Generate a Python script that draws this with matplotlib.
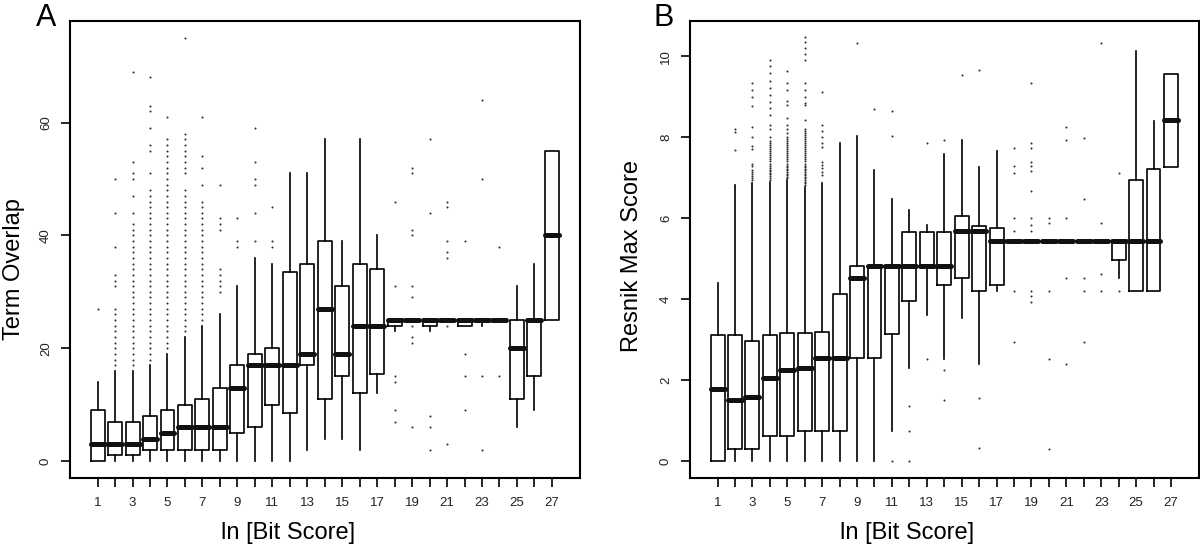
import matplotlib
matplotlib.use("Agg")
import matplotlib.pyplot as plt

plt.rcParams['font.family'] = ['Liberation Sans', 'DejaVu Sans']

positions = list(range(1, 28))
odd_labels = [str(k) if k % 2 == 1 else '' for k in positions]

# Panel A: Term Overlap
a_q1 = [0, 1, 1, 2, 2, 2, 2, 2, 5, 6, 10, 8.5, 17, 11, 15, 12, 15.5,
        24, 25, 24, 25, 24, 25, 25, 11, 15, 25]
a_med = [3, 3, 3, 4, 5, 6, 6, 6, 13, 17, 17, 17, 19, 27, 19, 24, 24,
         25, 25, 25, 25, 25, 25, 25, 20, 25, 40]
a_q3 = [9, 7, 7, 8, 9, 10, 11, 13, 17, 19, 20, 33.5, 35, 39, 31, 35, 34,
        25, 25, 25, 25, 25, 25, 25, 25, 25, 55]
a_lo = [0, 0, 0, 0, 0, 0, 0, 0, 0, 0, 0, 0, 2, 4, 4, 2, 12,
        23, 25, 23, 25, 24, 24, 25, 6, 9, 25]
a_hi = [14, 16, 16, 17, 19, 22, 24, 26, 31, 36, 35, 51, 51, 57, 39, 57, 40,
        25, 25, 25, 25, 25, 25, 25, 31, 35, 55]
a_fliers = [
    [27],
    [17, 18, 19, 20, 21, 22, 23, 24, 25, 26, 27, 31, 32, 33, 38, 44, 50],
    [17, 18, 19, 20, 21, 22, 23, 24, 25, 26, 27, 28, 29, 30, 31, 32, 33, 34,
     35, 36, 37, 38, 39, 40, 41, 42, 44, 47, 50, 51, 53, 69],
    [18, 19, 20, 21, 22, 23, 24, 25, 26, 27, 28, 29, 30, 31, 32, 33, 34, 35,
     36, 37, 38, 39, 40, 41, 42, 43, 44, 45, 46, 47, 48, 51, 55, 56, 59, 62,
     63, 68],
    [20, 21, 22, 23, 24, 25, 26, 27, 28, 29, 30, 31, 32, 33, 34, 35, 36, 37,
     38, 39, 40, 41, 42, 43, 44, 45, 46, 47, 48, 49, 50, 51, 52, 53, 54, 55,
     56, 57, 61],
    [23, 24, 25, 26, 27, 28, 29, 30, 31, 32, 33, 34, 35, 36, 37, 38, 39, 40,
     41, 42, 43, 44, 45, 46, 47, 48, 51, 52, 53, 54, 55, 56, 57, 58, 75],
    [25, 26, 27, 28, 29, 30, 31, 32, 33, 34, 35, 36, 37, 38, 39, 40, 41, 42,
     43, 44, 45, 46, 49, 52, 54, 61],
    [30, 31, 32, 33, 34, 41, 42, 43, 49],
    [38, 39, 43],
    [39, 44, 49, 50, 53, 59],
    [38, 39, 45],
    [], [], [], [], [], [],
    [7, 9, 14, 15, 31, 46],
    [6, 21, 22, 24, 29, 31, 40, 41, 51, 52],
    [2, 6, 8, 44, 57],
    [3, 24, 36, 37, 39, 45, 46],
    [9, 15, 19, 39],
    [2, 15, 50, 64],
    [15, 38],
    [], [], [],
]

# Panel B: Resnik Max Score
b_q1 = [0, 0.30, 0.30, 0.63, 0.63, 0.74, 0.74, 0.74, 2.54, 2.54, 3.14, 3.95,
        4.81, 4.36, 4.51, 4.21, 4.36, 5.43, 5.43, 5.43, 5.43, 5.43, 5.43,
        4.97, 4.21, 4.21, 7.27]
b_med = [1.77, 1.50, 1.58, 2.04, 2.24, 2.30, 2.54, 2.54, 4.52, 4.81, 4.81,
         4.81, 4.81, 4.81, 5.69, 5.69, 5.43, 5.43, 5.43, 5.43, 5.43, 5.43,
         5.43, 5.43, 5.43, 5.43, 8.42]
b_q3 = [3.12, 3.12, 2.97, 3.12, 3.16, 3.16, 3.20, 4.13, 4.82, 4.81, 4.81,
        5.67, 5.67, 5.67, 6.06, 5.80, 5.76, 5.43, 5.43, 5.43, 5.43, 5.43,
        5.43, 5.43, 6.94, 7.22, 9.57]
b_lo = [0, 0, 0, 0, 0, 0, 0, 0, 0, 0, 0.74, 2.30, 3.62, 2.53, 3.53, 2.41,
        4.21, 5.43, 5.43, 5.43, 5.43, 5.43, 5.43, 4.51, 4.21, 4.21, 7.27]
b_hi = [4.40, 6.82, 6.88, 6.90, 6.94, 6.78, 6.88, 7.86, 8.03, 7.20, 6.47,
        6.19, 5.82, 7.58, 7.92, 7.27, 7.66, 5.43, 5.43, 5.43, 5.43, 5.43,
        5.43, 5.43, 10.13, 8.40, 9.57]
b_fliers = [
    [],
    [7.68, 8.14, 8.20],
    [6.95, 7.0, 7.05, 7.1, 7.15, 7.2, 7.3, 7.35, 7.7, 7.78, 8.0, 8.26, 8.76,
     9.0, 9.17, 9.33],
    [6.95, 7.0, 7.04, 7.08, 7.12, 7.16, 7.2, 7.25, 7.3, 7.35, 7.4, 7.45, 7.5,
     7.55, 7.6, 7.65, 7.7, 7.75, 7.8, 7.85, 7.9, 8.0, 8.2, 8.3, 8.55, 8.72,
     8.88, 9.05, 9.21, 9.38, 9.59, 9.75, 9.9],
    [6.98, 7.02, 7.06, 7.1, 7.14, 7.18, 7.22, 7.26, 7.3, 7.35, 7.4, 7.45,
     7.5, 7.55, 7.6, 7.65, 7.7, 7.75, 7.8, 7.85, 7.9, 7.95, 8.0, 8.1, 8.2,
     8.3, 8.47, 8.8, 8.9, 9.17, 9.34, 9.63],
    [6.82, 6.86, 6.9, 6.94, 6.98, 7.02, 7.06, 7.1, 7.14, 7.18, 7.22, 7.26,
     7.3, 7.35, 7.4, 7.45, 7.5, 7.55, 7.6, 7.65, 7.7, 7.75, 7.8, 7.85, 7.9,
     7.95, 8.0, 8.05, 8.1, 8.15, 8.2, 8.43, 8.8, 8.85, 9.0, 9.17, 9.34, 9.9,
     10.05, 10.2, 10.35, 10.47],
    [7.06, 7.15, 7.25, 7.32, 7.39, 7.76, 7.85, 8.01, 8.15, 8.30, 9.12],
    [],
    [10.33],
    [8.70],
    [0.0, 8.03, 8.64],
    [0.0, 0.74, 1.35],
    [2.53, 7.86],
    [1.52, 2.24, 7.94],
    [9.53],
    [0.33, 1.56, 9.66],
    [],
    [2.95, 4.21, 5.69, 6.0, 7.12, 7.29, 7.73],
    [3.92, 4.08, 4.21, 5.69, 5.82, 6.0, 6.68, 7.16, 7.29, 7.38, 7.73, 7.86,
     9.33],
    [0.30, 2.53, 4.21, 5.89, 6.0],
    [2.41, 4.51, 6.0, 7.94, 8.25],
    [2.95, 4.21, 4.51, 6.48, 7.97],
    [4.21, 4.62, 5.89, 10.33],
    [4.21, 7.12],
    [], [], [],
]


def make_stats(q1, med, q3, lo, hi, fliers):
    stats = []
    for i in range(len(med)):
        stats.append({'q1': q1[i], 'med': med[i], 'q3': q3[i],
                      'whislo': lo[i], 'whishi': hi[i], 'fliers': fliers[i]})
    return stats


def draw_panel(ax, stats, ylim, yticks):
    ax.bxp(stats, positions=positions, widths=0.8, showcaps=False,
           boxprops=dict(color='black', linewidth=1.2),
           whiskerprops=dict(color='black', linewidth=1.2),
           medianprops=dict(color='#111111', linewidth=3.6,
                            solid_capstyle='round'),
           flierprops=dict(marker='o', markersize=1.5,
                           markerfacecolor='#333333',
                           markeredgecolor='none'))
    ax.set_xlim(-0.58, 28.58)
    ax.set_ylim(*ylim)
    ax.set_xticks(positions)
    ax.set_xticklabels(odd_labels)
    ax.set_yticks(yticks)
    ax.set_yticklabels([str(v) for v in yticks], rotation=90, va='center')
    ax.tick_params(axis='x', direction='out', length=6.5, width=1.2,
                   pad=7, labelsize=9.5, labelcolor='#222222')
    ax.tick_params(axis='y', direction='out', length=6.5, width=1.2,
                   pad=6.5, labelsize=9.5, labelcolor='#222222')
    for sp in ax.spines.values():
        sp.set_linewidth(1.5)


fig = plt.figure(figsize=(12, 5.51), dpi=100)
W, H = 1200, 551
bottom = 1 - 478 / H
height = (478 - 21) / H
axA = fig.add_axes([70 / W, bottom, (579.5 - 70) / W, height])
axB = fig.add_axes([690 / W, bottom, (1198.5 - 690) / W, height])

draw_panel(axA, make_stats(a_q1, a_med, a_q3, a_lo, a_hi, a_fliers),
           (-3, 78), [0, 20, 40, 60])
draw_panel(axB, make_stats(b_q1, b_med, b_q3, b_lo, b_hi, b_fliers),
           (-0.418, 10.87), [0, 2, 4, 6, 8, 10])

fig.text(46 / W, 1 - 18 / H, 'A', fontsize=22, ha='center', va='center')
fig.text(664 / W, 1 - 18 / H, 'B', fontsize=22, ha='center', va='center')
fig.text(14 / W, 1 - 269 / H, 'Term Overlap', fontsize=17, rotation=90,
         ha='center', va='center')
fig.text(632 / W, 1 - 256 / H, 'Resnik Max Score', fontsize=17,
         rotation=90, ha='center', va='center')
fig.text(288 / W, 1 - 533 / H, 'ln [Bit Score]', fontsize=17,
         ha='center', va='center')
fig.text(907 / W, 1 - 533 / H, 'ln [Bit Score]', fontsize=17,
         ha='center', va='center')

fig.savefig('out.png', dpi=100)
